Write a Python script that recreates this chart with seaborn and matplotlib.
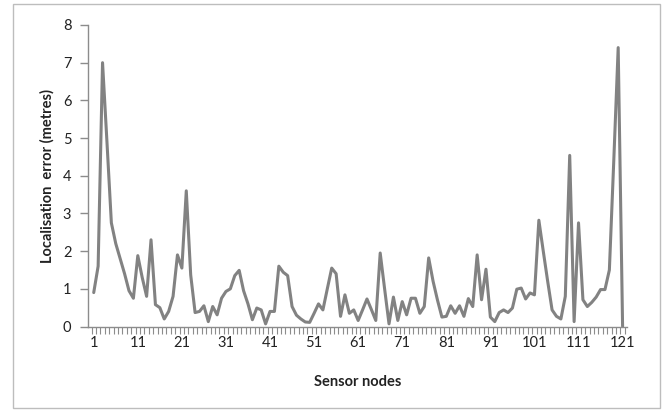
import matplotlib
matplotlib.use("Agg")
import matplotlib.pyplot as plt
from matplotlib.patches import Rectangle
import seaborn as sns
import pandas as pd
import numpy as np

errors = [
    0.9, 1.6, 7.0, 4.9, 2.75, 2.2, 1.8, 1.4, 0.95, 0.75,
    1.88, 1.3, 0.8, 2.3, 0.58, 0.5, 0.2, 0.4, 0.8, 1.9,
    1.55, 3.6, 1.37, 0.37, 0.4, 0.55, 0.13, 0.53, 0.31, 0.75,
    0.93, 1.0, 1.35, 1.49, 0.95, 0.6, 0.18, 0.49, 0.44, 0.07,
    0.4, 0.4, 1.6, 1.44, 1.35, 0.53, 0.3, 0.2, 0.12, 0.11,
    0.35, 0.6, 0.44, 1.0, 1.55, 1.4, 0.27, 0.84, 0.35, 0.44,
    0.16, 0.44, 0.73, 0.45, 0.16, 1.95, 1.0, 0.07, 0.78, 0.16,
    0.66, 0.31, 0.75, 0.75, 0.35, 0.53, 1.82, 1.2, 0.7, 0.25,
    0.27, 0.55, 0.35, 0.55, 0.27, 0.74, 0.53, 1.9, 0.71, 1.52,
    0.25, 0.13, 0.37, 0.44, 0.37, 0.49, 0.99, 1.02, 0.73, 0.89,
    0.84, 2.82, 2.0, 1.2, 0.44, 0.27, 0.2, 0.8, 4.54, 0.13,
    2.75, 0.71, 0.53, 0.64, 0.78, 0.98, 0.98, 1.5, 4.4, 7.4, 0.0,
]
nodes = list(range(1, len(errors) + 1))
x_tick_labels = [str(v) for v in range(1, 122, 10)]
y_ticks = list(range(0, 9))

df = pd.DataFrame({"node": nodes, "error": errors})

sns.set_style("white")
plt.rcParams['font.family'] = ['Lato', 'DejaVu Sans']

fig = plt.figure(figsize=(6.64, 4.16), dpi=100)
ax = fig.add_axes([88/664, (416-326.5)/416, 539/664, 301.5/416])

sns.lineplot(data=df, x="node", y="error", ax=ax, color="#828282", linewidth=2.2)

ax.set_xlim(-0.3, 122.0)
ax.set_ylim(0, 8)

spine_col = "#8c8c8c"
for s in ["top", "right"]:
    ax.spines[s].set_visible(False)
for s in ["left", "bottom"]:
    ax.spines[s].set_color(spine_col)
    ax.spines[s].set_linewidth(1.0)

ax.set_yticks(y_ticks)
ax.set_yticklabels([str(v) for v in y_ticks])
ax.tick_params(axis="y", which="major", direction="out", length=6, width=1,
               color=spine_col, labelsize=10.5, pad=6, labelcolor="#222222", left=True)

ax.set_xticks([int(v) for v in x_tick_labels])
ax.set_xticklabels(x_tick_labels)
ax.set_xticks(np.arange(0.5, len(errors) + 1, 1.0), minor=True)
ax.tick_params(axis="x", which="major", length=0, labelsize=10.5, pad=7, labelcolor="#222222")
ax.tick_params(axis="x", which="minor", direction="out", length=5, width=0.8,
               color=spine_col, bottom=True)

ax.set_xlabel("Sensor nodes", fontsize=10.5, fontweight="bold", color="#222222", labelpad=18)
ax.set_ylabel("Localisation  error (metres)", fontsize=10.5, fontweight="bold", color="#222222", labelpad=6)
ax.grid(False)

fig.patches.append(Rectangle((13/664, (416-408)/416), (660-13)/664, (408-4)/416,
                             transform=fig.transFigure, fill=False,
                             edgecolor="#bdbdbd", linewidth=1.0))

fig.savefig("out.png", dpi=100)
